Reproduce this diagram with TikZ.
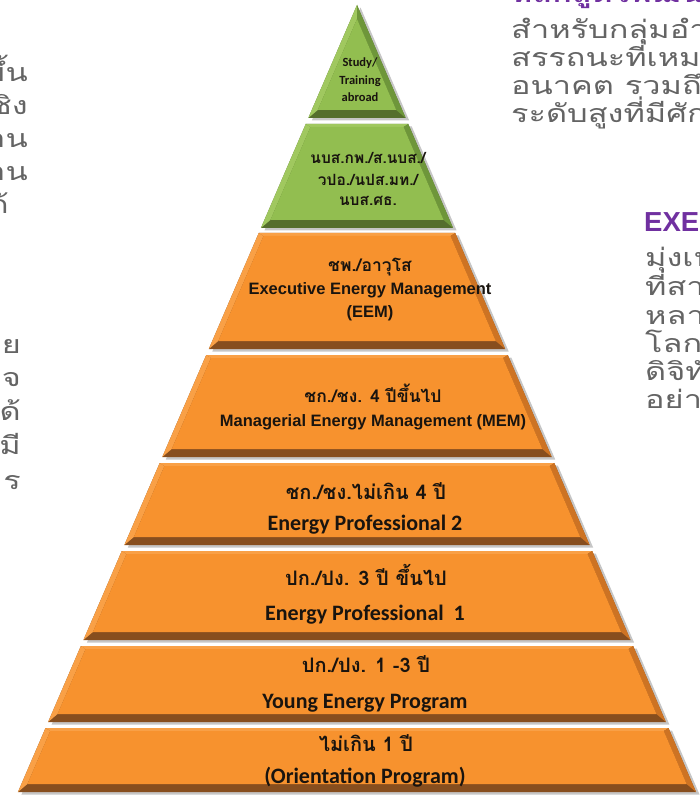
\documentclass[tikz,border=0pt]{standalone}
\usepackage{fontspec}
\newfontfamily\thaif[Script=Thai]{Loma}
\newfontfamily\thaiw[Script=Thai,FakeStretch=1.3]{Loma}
\newfontfamily\calf{Carlito}
\newfontfamily\libf{Liberation Sans}
\definecolor{org}{RGB}{247,146,46}
\definecolor{orgl}{RGB}{249,160,70}
\definecolor{orgs}{RGB}{205,115,35}
\definecolor{orgd}{RGB}{135,78,30}
\definecolor{grn}{RGB}{146,190,80}
\definecolor{grnl}{RGB}{160,200,95}
\definecolor{grns}{RGB}{110,150,58}
\definecolor{grnd}{RGB}{85,110,45}
\definecolor{txtgrey}{RGB}{100,100,100}
\definecolor{purp}{RGB}{112,48,160}
\definecolor{ink}{RGB}{25,20,15}
\newcommand{\pyrlayer}[7]{%
  \pgfmathsetmacro\pyTL{357-0.4308*(#1-5)}%
  \pgfmathsetmacro\pyTR{357+0.4308*(#1-5)}%
  \pgfmathsetmacro\pyBL{357-0.4308*(#2-5)}%
  \pgfmathsetmacro\pyBR{357+0.4308*(#2-5)}%
  \pgfmathsetmacro\pyIT{#1+#3}%
  \pgfmathsetmacro\pyIB{#2-8}%
  \pgfmathsetmacro\pyITL{357-0.4308*(\pyIT-5)+6}%
  \pgfmathsetmacro\pyITR{357+0.4308*(\pyIT-5)-6}%
  \pgfmathsetmacro\pyIBL{357-0.4308*(\pyIB-5)+6}%
  \pgfmathsetmacro\pyIBR{357+0.4308*(\pyIB-5)-6}%
  \fill[gray!45,shift={(3.5,2.5)}] (\pyTL,#1) -- (\pyTR,#1) -- (\pyBR,#2) -- (\pyBL,#2) -- cycle;
  \fill[#7] (\pyTL,#1) -- (\pyTR,#1) -- (\pyBR,#2) -- (\pyBL,#2) -- cycle;
  \fill[#5] (\pyTL,#1) -- (\pyTR,#1) -- (\pyITR,\pyIT) -- (\pyITL,\pyIT) -- cycle;
  \fill[#5] (\pyTL,#1) -- (\pyITL,\pyIT) -- (\pyIBL,\pyIB) -- (\pyBL,#2) -- cycle;
  \fill[#6] (\pyTR,#1) -- (\pyBR,#2) -- (\pyIBR,\pyIB) -- (\pyITR,\pyIT) -- cycle;
  \fill[#4] (\pyITL,\pyIT) -- (\pyITR,\pyIT) -- (\pyIBR,\pyIB) -- (\pyIBL,\pyIB) -- cycle;
}
\tikzset{
  pt/.style={inner sep=0pt, anchor=base, text=ink},
  thaiS/.style={pt, font=\thaif\bfseries\fontsize{15.5}{17}\selectfont},
  thaiM/.style={pt, font=\thaif\bfseries\fontsize{17.5}{19}\selectfont},
  thaiL/.style={pt, font=\thaif\bfseries\fontsize{20}{22}\selectfont},
  engS/.style={pt, font=\calf\bfseries\fontsize{12.5}{14}\selectfont},
  engM/.style={pt, font=\libf\bfseries\fontsize{16.5}{18}\selectfont},
  engL/.style={pt, font=\calf\bfseries\fontsize{22}{24}\selectfont},
  sideT/.style={inner sep=0pt, text=txtgrey, font=\thaiw\fontsize{25}{28}\selectfont},
  sideR/.style={sideT, anchor=base west},
  sideL/.style={sideT, anchor=base east},
  headP/.style={inner sep=0pt, anchor=base west, text=purp}
}
\begin{document}
\begin{tikzpicture}[x=1pt,y=-1pt]
\useasboundingbox (0,0) rectangle (700,799);
\clip (0,0) rectangle (700,799);
% pyramid layers
\pyrlayer{5}{118}{14}{grn}{grnl}{grns}{grnd}
\pyrlayer{124}{228}{3}{grn}{grnl}{grns}{grnd}
\pyrlayer{233}{349}{3}{org}{orgl}{orgs}{orgd}
\pyrlayer{355}{457}{3}{org}{orgl}{orgs}{orgd}
\pyrlayer{463}{545}{3}{org}{orgl}{orgs}{orgd}
\pyrlayer{551}{640}{3}{org}{orgl}{orgs}{orgd}
\pyrlayer{646}{722}{3}{org}{orgl}{orgs}{orgd}
\pyrlayer{728}{792}{3}{org}{orgl}{orgs}{orgd}
% layer texts
\node[engS] (s1) at (360,67) {Study/};
\node[engS] (s2) at (360,85) {Training};
\node[engS] (s3) at (360,102) {abroad};
\node[thaiS] (n1) at (368,164) {นบส.กพ./ส.นบส./};
\node[thaiS] (n2) at (368,186) {วปอ./นปส.มท./};
\node[thaiS] (n3) at (368,206) {นบส.ศธ.};
\node[thaiM] (e1) at (370,271) {ชพ./อาวุโส};
\node[engM] (e2) at (370,294) {Executive Energy Management};
\node[engM] (e3) at (370,317) {(EEM)};
\node[thaiM] (m1) at (373,402) {ชก./ชง. 4 ปีขึ้นไป};
\node[engM] (m2) at (373,426) {Managerial Energy Management (MEM)};
\node[thaiL] (p1) at (366,499) {ชก./ชง.ไม่เกิน 4 ปี};
\node[engL] (p2) at (365,530) {Energy Professional 2};
\node[thaiL] (q1) at (366,585) {ปก./ปง. 3 ปี ขึ้นไป};
\node[engL] (q2) at (365,620) {Energy Professional\ \ 1};
\node[thaiL] (y1) at (366,672) {ปก./ปง. 1 -3 ปี};
\node[engL] (y2) at (365,708) {Young Energy Program};
\node[thaiL] (o1) at (366,751) {ไม่เกิน 1 ปี};
\node[engL] (o2) at (365,783) {(Orientation Program)};
% left side text (cut at the edge)
\node[sideL] (a1) at (28,82) {ขึ้น};
\node[sideL] (a2) at (28,115) {ชิง};
\node[sideL] (a3) at (28,148) {งาน};
\node[sideL] (a4) at (28,181) {งาน};
\node[sideL] (a5) at (9,214) {ด้};
\node[sideL] (b1) at (21,353) {ย};
\node[sideL] (b2) at (21,386) {จ};
\node[sideL] (b3) at (21,420) {ด้};
\node[sideL] (b4) at (21,454) {มี};
\node[sideL] (b5) at (21,489) {ร};
% right side text (cut at the edge)
\node[headP, font=\thaiw\bfseries\fontsize{25}{28}\selectfont] (h1) at (511,3) {หลักสูตรพัฒนาผู้บริหาร};
\node[sideR] (r1) at (511,39) {สำหรับกลุ่มอำนวยการ};
\node[sideR] (r2) at (511,67) {สรรถนะที่เหมาะสม};
\node[sideR] (r3) at (511,95) {อนาคต รวมถึง};
\node[sideR] (r4) at (511,123) {ระดับสูงที่มีศักยภาพ};
\node[headP, font=\libf\bfseries\fontsize{27.5}{30}\selectfont] (h2) at (644,232) {EXECUTIVE};
\node[sideR] (x1) at (645,266) {มุ่งเน้น};
\node[sideR] (x2) at (645,295) {ที่สามารถ};
\node[sideR] (x3) at (645,324) {หลาย};
\node[sideR] (x4) at (645,352) {โลกใหม่};
\node[sideR] (x5) at (645,380) {ดิจิทัล};
\node[sideR] (x6) at (645,408) {อย่างมี};
\end{tikzpicture}
\end{document}
